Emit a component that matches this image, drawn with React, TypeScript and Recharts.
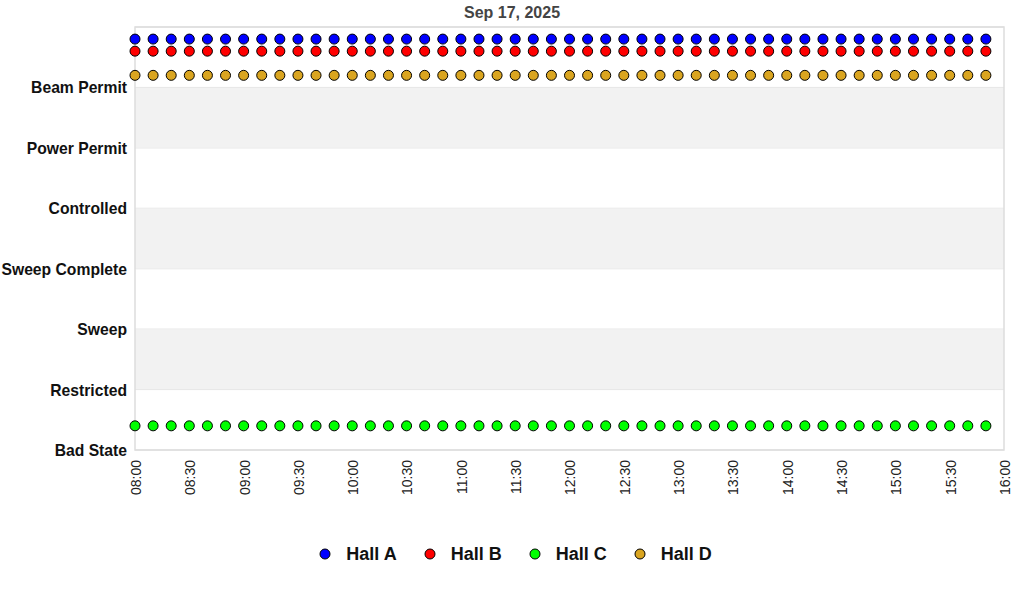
import React from "react";
import {
  ScatterChart,
  Scatter,
  XAxis,
  YAxis,
  CartesianGrid,
  ReferenceArea,
  Legend,
} from "recharts";

const TITLE = "Sep 17, 2025";

const STATE_LABELS = [
  "Bad State",
  "Restricted",
  "Sweep",
  "Sweep Complete",
  "Controlled",
  "Power Permit",
  "Beam Permit",
];

const X_TICK_LABELS = [
  "08:00", "08:30", "09:00", "09:30", "10:00", "10:30", "11:00", "11:30",
  "12:00", "12:30", "13:00", "13:30", "14:00", "14:30", "15:00", "15:30", "16:00",
];

const SAMPLE_TIMES = [
  "08:00", "08:10", "08:20", "08:30", "08:40", "08:50",
  "09:00", "09:10", "09:20", "09:30", "09:40", "09:50",
  "10:00", "10:10", "10:20", "10:30", "10:40", "10:50",
  "11:00", "11:10", "11:20", "11:30", "11:40", "11:50",
  "12:00", "12:10", "12:20", "12:30", "12:40", "12:50",
  "13:00", "13:10", "13:20", "13:30", "13:40", "13:50",
  "14:00", "14:10", "14:20", "14:30", "14:40", "14:50",
  "15:00", "15:10", "15:20", "15:30", "15:40", "15:50",
];

const HALL_A = [
  6.8, 6.8, 6.8, 6.8, 6.8, 6.8, 6.8, 6.8, 6.8, 6.8, 6.8, 6.8,
  6.8, 6.8, 6.8, 6.8, 6.8, 6.8, 6.8, 6.8, 6.8, 6.8, 6.8, 6.8,
  6.8, 6.8, 6.8, 6.8, 6.8, 6.8, 6.8, 6.8, 6.8, 6.8, 6.8, 6.8,
  6.8, 6.8, 6.8, 6.8, 6.8, 6.8, 6.8, 6.8, 6.8, 6.8, 6.8, 6.8,
];
const HALL_B = [
  6.6, 6.6, 6.6, 6.6, 6.6, 6.6, 6.6, 6.6, 6.6, 6.6, 6.6, 6.6,
  6.6, 6.6, 6.6, 6.6, 6.6, 6.6, 6.6, 6.6, 6.6, 6.6, 6.6, 6.6,
  6.6, 6.6, 6.6, 6.6, 6.6, 6.6, 6.6, 6.6, 6.6, 6.6, 6.6, 6.6,
  6.6, 6.6, 6.6, 6.6, 6.6, 6.6, 6.6, 6.6, 6.6, 6.6, 6.6, 6.6,
];
const HALL_C = [
  0.4, 0.4, 0.4, 0.4, 0.4, 0.4, 0.4, 0.4, 0.4, 0.4, 0.4, 0.4,
  0.4, 0.4, 0.4, 0.4, 0.4, 0.4, 0.4, 0.4, 0.4, 0.4, 0.4, 0.4,
  0.4, 0.4, 0.4, 0.4, 0.4, 0.4, 0.4, 0.4, 0.4, 0.4, 0.4, 0.4,
  0.4, 0.4, 0.4, 0.4, 0.4, 0.4, 0.4, 0.4, 0.4, 0.4, 0.4, 0.4,
];
const HALL_D = [
  6.2, 6.2, 6.2, 6.2, 6.2, 6.2, 6.2, 6.2, 6.2, 6.2, 6.2, 6.2,
  6.2, 6.2, 6.2, 6.2, 6.2, 6.2, 6.2, 6.2, 6.2, 6.2, 6.2, 6.2,
  6.2, 6.2, 6.2, 6.2, 6.2, 6.2, 6.2, 6.2, 6.2, 6.2, 6.2, 6.2,
  6.2, 6.2, 6.2, 6.2, 6.2, 6.2, 6.2, 6.2, 6.2, 6.2, 6.2, 6.2,
];

const SERIES_NAMES = ["Hall A", "Hall B", "Hall C", "Hall D"];
const SERIES_COLORS = ["#0000ff", "#ff0000", "#00ff00", "#daa520"];
const SERIES_VALUES = [HALL_A, HALL_B, HALL_C, HALL_D];

const FONT = "'Liberation Sans', Arial, sans-serif";

const toMinutes = (t: string) => {
  const [h, m] = t.split(":").map(Number);
  return (h - 8) * 60 + m;
};

const xTicks = X_TICK_LABELS.map(toMinutes);
const yTicks = STATE_LABELS.map((_, i) => i);

const seriesData = SERIES_VALUES.map((vals) =>
  SAMPLE_TIMES.map((t, i) => ({ x: toMinutes(t), y: vals[i] }))
);

const XTick = (props: any) => {
  const { x, index } = props;
  const top = 460;
  return (
    <text
      x={x}
      y={top}
      transform={`rotate(-90, ${x}, ${top})`}
      textAnchor="end"
      dy="0.42em"
      fontFamily={FONT}
      fontSize={14}
      fill="#222"
    >
      {X_TICK_LABELS[index] ?? ""}
    </text>
  );
};

const YTick = (props: any) => {
  const { y, payload } = props;
  return (
    <text
      x={127}
      y={y}
      textAnchor="end"
      dy="0.38em"
      fontFamily={FONT}
      fontSize={15.7}
      fontWeight="bold"
      fill="#111"
    >
      {STATE_LABELS[payload.value]}
    </text>
  );
};

const makeDot = (color: string) => (props: any) => {
  const { cx, cy } = props;
  if (cx == null || cy == null) return <g />;
  return <circle cx={cx} cy={cy} r={5} fill={color} stroke="#000" strokeWidth={1} />;
};

const LegendContent = () => (
  <div
    style={{
      display: "flex",
      justifyContent: "center",
      alignItems: "center",
      height: 50,
      paddingLeft: 27,
      boxSizing: "border-box",
      fontFamily: FONT,
    }}
  >
    {SERIES_NAMES.map((name, i) => (
      <div
        key={name}
        style={{ display: "flex", alignItems: "center", marginRight: i < 3 ? 27 : 0 }}
      >
        <svg width={12} height={12} style={{ marginRight: 15 }}>
          <circle cx={6} cy={6} r={5} fill={SERIES_COLORS[i]} stroke="#000" strokeWidth={1} />
        </svg>
        <span style={{ fontSize: 18, fontWeight: "bold", color: "#111" }}>{name}</span>
      </div>
    ))}
  </div>
);

export default function App() {
  return (
    <div style={{ position: "absolute", left: 0, top: 0, width: 1024, height: 600, background: "#fff" }}>
      <div
        style={{
          position: "absolute",
          top: 3,
          left: 0,
          width: 1024,
          textAlign: "center",
          fontFamily: FONT,
          fontSize: 16,
          fontWeight: "bold",
          color: "#444",
          lineHeight: "20px",
        }}
      >
        {TITLE}
      </div>
      <ScatterChart
        width={1024}
        height={600}
        margin={{ top: 27, right: 20, bottom: 0, left: 0 }}
      >
        <ReferenceArea x1={0} x2={480} y1={1} y2={2} fill="#f2f2f2" fillOpacity={1} stroke="none" />
        <ReferenceArea x1={0} x2={480} y1={3} y2={4} fill="#f2f2f2" fillOpacity={1} stroke="none" />
        <ReferenceArea x1={0} x2={480} y1={5} y2={6} fill="#f2f2f2" fillOpacity={1} stroke="none" />
        <CartesianGrid vertical={false} stroke="#dddddd" />
        <ReferenceArea x1={0} x2={480} y1={0} y2={7} fill="none" stroke="#dddddd" strokeWidth={1.5} />
        <XAxis
          type="number"
          dataKey="x"
          domain={[0, 480]}
          ticks={xTicks}
          interval={0}
          tick={<XTick />}
          tickLine={false}
          axisLine={false}
          height={100}
        />
        <YAxis
          type="number"
          dataKey="y"
          domain={[0, 7]}
          ticks={yTicks}
          interval={0}
          tick={<YTick />}
          tickLine={false}
          axisLine={false}
          width={135}
        />
        <Legend verticalAlign="bottom" content={<LegendContent />} wrapperStyle={{ bottom: 21 }} />
        {SERIES_NAMES.map((name, i) => (
          <Scatter
            key={name}
            name={name}
            data={seriesData[i]}
            fill={SERIES_COLORS[i]}
            shape={makeDot(SERIES_COLORS[i])}
            isAnimationActive={false}
          />
        ))}
      </ScatterChart>
    </div>
  );
}
